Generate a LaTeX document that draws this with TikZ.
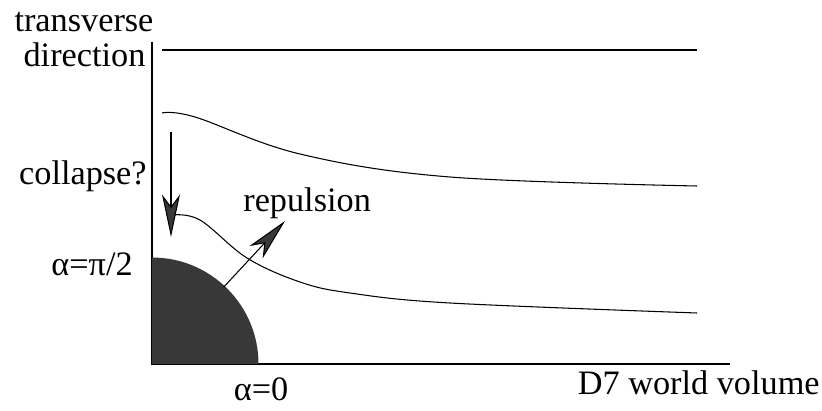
\documentclass[tikz,border=0pt]{standalone}
\usepackage{fontspec}
\setmainfont{Liberation Serif}
\usepackage{xcolor}
\usetikzlibrary{arrows.meta,calc}
\definecolor{branegray}{HTML}{383838}

\begin{document}
\begin{tikzpicture}[
    lbl/.style={inner sep=0pt,font=\fontsize{19.5}{21}\selectfont},
    curve/.style={line width=0.6pt},
    bigarrow/.style={line width=0.6pt,-{Stealth[length=0.85cm,width=0.36cm,inset=0.24cm,fill=branegray]}}
  ]
    \useasboundingbox (0,0) rectangle (16.44,8.22);
    % axes
    \coordinate (O) at (3.04,0.94);
    \draw[line width=0.8pt] (3.04,7.38) -- (O) -- (14.6,0.94);
    % the blob at the origin
    \fill[branegray] (O) -- ++(2.13,0) arc (0:90:2.13) -- cycle;
    % brane profiles
    \draw[curve] (3.24,7.22) -- (13.94,7.22);
    \draw[curve] plot[smooth,tension=0.6] coordinates {(3.24,5.96) (3.9,5.88) (6.0,5.14) (9.0,4.68) (13.94,4.5)};
    \draw[curve] plot[smooth,tension=0.6] coordinates {(3.44,3.92) (4.0,3.82) (4.94,3.06) (6.0,2.58) (7.0,2.36) (9.0,2.16) (13.94,1.96)};
    % arrows
    \coordinate (ctop) at (3.42,5.58);
    \coordinate (ctip) at (3.42,3.48);
    \draw[bigarrow] (ctop) -- (ctip);
    \coordinate (rbase) at ($(O)+(47:2.1)$);
    \coordinate (rtip) at (5.7,3.8);
    \draw[bigarrow] (rbase) -- (rtip);
    % labels
    \node[lbl,anchor=base] (trans) at (1.68,7.58) {transverse};
    \node[lbl,anchor=base] (dir) at (1.69,6.88) {direction};
    \node[lbl,anchor=base east] (collapse) at (2.94,4.52) {collapse?};
    \node[lbl,anchor=base west] (repuls) at (4.86,3.98) {repulsion};
    \node[lbl,anchor=base east] (halfpi) at (2.66,2.72) {α=π/2};
    \node[lbl,anchor=base] (zero) at (5.22,0.22) {α=0};
    \node[lbl,anchor=base east] (world) at (16.4,0.32) {D7 world volume};
\end{tikzpicture}
\end{document}
